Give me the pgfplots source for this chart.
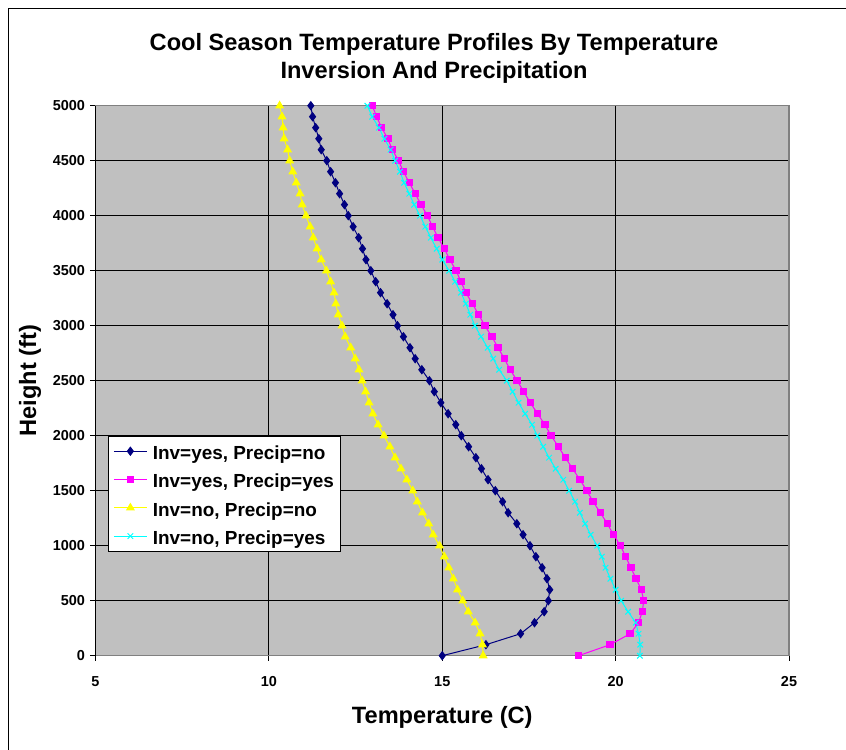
\documentclass[border=0pt]{standalone}
\usepackage{fontspec}
\setmainfont{Liberation Sans}
\usepackage{pgfplots}
\usepackage{pgfplotstable}
\pgfplotsset{compat=1.18}
\definecolor{bgc}{HTML}{C0C0C0}
\definecolor{navyc}{HTML}{000080}
\definecolor{magc}{HTML}{FF00FF}
\definecolor{yelc}{HTML}{FFFF00}
\definecolor{cyac}{HTML}{00FFFF}
\definecolor{bordc}{HTML}{808080}

\pgfplotstableread{
h T
0 15.00
100 16.26
200 17.26
300 17.66
400 17.94
500 18.06
600 18.10
700 18.02
800 17.88
900 17.70
1000 17.53
1100 17.33
1200 17.15
1300 16.90
1400 16.74
1500 16.53
1600 16.32
1700 16.13
1800 15.97
1900 15.76
2000 15.55
2100 15.39
2200 15.17
2300 14.96
2400 14.77
2500 14.63
2600 14.41
2700 14.22
2800 14.07
2900 13.88
3000 13.71
3100 13.58
3200 13.41
3300 13.22
3400 13.08
3500 12.94
3600 12.80
3700 12.70
3800 12.59
3900 12.43
4000 12.29
4100 12.18
4200 12.04
4300 11.92
4400 11.78
4500 11.67
4600 11.51
4700 11.44
4800 11.35
4900 11.26
5000 11.21
}\invyesprecno

\pgfplotstableread{
h T
0 18.93
100 19.84
200 20.42
300 20.66
400 20.77
500 20.81
600 20.74
700 20.59
800 20.44
900 20.29
1000 20.14
1100 19.94
1200 19.76
1300 19.56
1400 19.35
1500 19.17
1600 18.97
1700 18.76
1800 18.55
1900 18.35
2000 18.14
2100 17.96
2200 17.75
2300 17.54
2400 17.35
2500 17.16
2600 16.96
2700 16.79
2800 16.61
2900 16.43
3000 16.23
3100 16.05
3200 15.87
3300 15.68
3400 15.54
3500 15.40
3600 15.22
3700 15.06
3800 14.88
3900 14.72
4000 14.57
4100 14.39
4200 14.22
4300 14.05
4400 13.88
4500 13.74
4600 13.56
4700 13.43
4800 13.25
4900 13.11
5000 12.98
}\invyesprecyes

\pgfplotstableread{
h T
0 16.18
100 16.16
200 16.09
300 15.95
400 15.75
500 15.59
600 15.44
700 15.32
800 15.19
900 15.06
1000 14.92
1100 14.74
1200 14.61
1300 14.43
1400 14.28
1500 14.15
1600 13.98
1700 13.81
1800 13.64
1900 13.49
2000 13.32
2100 13.15
2200 13.00
2300 12.89
2400 12.79
2500 12.69
2600 12.60
2700 12.49
2800 12.36
2900 12.20
3000 12.11
3100 12.00
3200 11.93
3300 11.88
3400 11.78
3500 11.66
3600 11.51
3700 11.39
3800 11.28
3900 11.19
4000 11.07
4100 10.96
4200 10.90
4300 10.79
4400 10.69
4500 10.60
4600 10.54
4700 10.44
4800 10.41
4900 10.38
5000 10.31
}\invnoprecno

\pgfplotstableread{
h T
0 20.70
100 20.71
200 20.66
300 20.58
400 20.36
500 20.16
600 20.00
700 19.85
800 19.71
900 19.60
1000 19.47
1100 19.28
1200 19.12
1300 18.97
1400 18.83
1500 18.66
1600 18.49
1700 18.27
1800 18.08
1900 17.91
2000 17.74
2100 17.59
2200 17.39
2300 17.20
2400 17.03
2500 16.86
2600 16.64
2700 16.47
2800 16.31
2900 16.12
3000 15.94
3100 15.81
3200 15.68
3300 15.54
3400 15.37
3500 15.20
3600 15.00
3700 14.84
3800 14.67
3900 14.51
4000 14.36
4100 14.19
4200 14.05
4300 13.90
4400 13.78
4500 13.64
4600 13.51
4700 13.33
4800 13.17
4900 12.98
5000 12.84
}\invnoprecyes

\begin{document}
\begin{tikzpicture}
\useasboundingbox (0,0) rectangle (846bp,750bp);
\fill[white] (0,0) rectangle (846bp,750bp);
\draw[black,line width=1bp] (8.5bp,0) -- (8.5bp,741.5bp) -- (846bp,741.5bp);
\node[anchor=base,inner sep=0pt,font=\bfseries\fontsize{23.7}{28}\selectfont] at (434bp,699bp) {Cool Season Temperature Profiles By Temperature};
\node[anchor=base,inner sep=0pt,font=\bfseries\fontsize{23.7}{28}\selectfont] at (434bp,671bp) {Inversion And Precipitation};
\begin{axis}[
  scale only axis, width=693.5bp, height=550bp,
  at={(95.5bp,94.3bp)}, anchor=south west,
  xmin=5, xmax=25, ymin=0, ymax=5000,
  xtick={5,10,...,25}, ytick={0,500,...,5000},
  axis background/.style={fill=bgc},
  grid=major, grid style={black, line width=0.8bp},
  axis line style={draw=bordc, line width=1.5bp},
  tick align=outside, tick pos=left, major tick length=5bp,
  tick style={black, line width=0.8bp},
  ticklabel style={font=\bfseries\fontsize{14.5}{14.5}\selectfont},
  xticklabel style={yshift=-12bp},
  yticklabel style={xshift=-2bp},
  /pgf/number format/assume math mode=true,
  /pgf/number format/1000 sep={},
  xlabel={Temperature (C)}, ylabel={Height (ft)},
  label style={font=\bfseries\fontsize{23.7}{28}\selectfont},
  xlabel style={at={(axis description cs:0.5,-0.1224)}, anchor=base},
  ylabel style={at={(axis description cs:-0.0945,0.5)}, anchor=center},
  legend style={at={(axis description cs:0.018,0.3995)}, anchor=north west,
    draw=black, fill=white, line width=0.8bp,
    font=\bfseries\fontsize{19}{19}\selectfont,
    row sep=8.6bp, inner xsep=5bp, inner ysep=5bp,
    nodes={inner sep=1.5bp, text height=16.7bp, text depth=0bp}},
  legend cell align=left,
  legend image code/.code={\draw[mark repeat=2,mark phase=2,#1] plot coordinates {(0bp,0bp) (16.5bp,0bp) (33bp,0bp)};},
  clip=false,
]
\addplot[navyc, line width=1bp, mark=diamond*, mark size=4bp, mark options={solid, fill=navyc, draw=navyc}] table[x=T, y=h] {\invyesprecno};
\addlegendentry{\hspace{4bp}Inv=yes, Precip=no}
\addplot[magc, line width=1bp, mark=square*, mark size=3.2bp, mark options={solid, fill=magc, draw=magc}] table[x=T, y=h] {\invyesprecyes};
\addlegendentry{\hspace{4bp}Inv=yes, Precip=yes}
\addplot[yelc, line width=1bp, mark=triangle*, mark size=4.2bp, mark options={solid, fill=yelc, draw=yelc}] table[x=T, y=h] {\invnoprecno};
\addlegendentry{\hspace{4bp}Inv=no, Precip=no}
\addplot[cyac, line width=1bp, mark=x, mark size=3.9bp, mark options={solid, draw=cyac, line width=1bp}] table[x=T, y=h] {\invnoprecyes};
\addlegendentry{\hspace{4bp}Inv=no, Precip=yes}
\draw[black, line width=1bp] (rel axis cs:0,0) -- (rel axis cs:0,1);
\end{axis}
\end{tikzpicture}
\end{document}
